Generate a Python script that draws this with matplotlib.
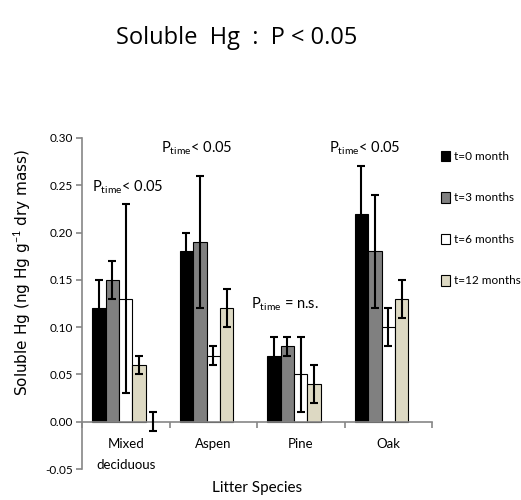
import matplotlib.pyplot as plt
import numpy as np
from matplotlib.patches import Patch

species = ['Mixed\ndeciduous', 'Aspen', 'Pine', 'Oak']
series = ['t=0 month', 't=3 months', 't=6 months', 't=12 months']
colors = ['#000000', '#808080', '#ffffff', '#ddd9c3']

vals = [
    [0.12, 0.18, 0.07, 0.22],   # t=0
    [0.15, 0.19, 0.08, 0.18],   # t=3
    [0.13, 0.07, 0.05, 0.10],   # t=6
    [0.06, 0.12, 0.04, 0.13],   # t=12
]
errs = [
    [0.03, 0.02, 0.02, 0.05],
    [0.02, 0.07, 0.01, 0.06],
    [0.10, 0.01, 0.04, 0.02],
    [0.01, 0.02, 0.02, 0.02],
]
# stray empty fifth slot with an error bar (mixed deciduous only)
blank_vals = [0.0, np.nan, np.nan, np.nan]
blank_errs = [0.01, np.nan, np.nan, np.nan]

p_tail = ['< 0.05', '< 0.05', ' = n.s.', '< 0.05']
p_x = [0.02, 0.81, 1.82, 2.73]
p_y = [0.239, 0.28, 0.115, 0.28]

narrow = ['Lato', 'DejaVu Sans']
plt.rcParams['mathtext.fontset'] = 'custom'
plt.rcParams['mathtext.rm'] = 'Lato'

fig = plt.figure(figsize=(5.21, 5.00), dpi=100)
ax = fig.add_axes([82/521, 1-469/500, 350/521, 331/500])

x = np.arange(len(species))
w = 0.154
for k in range(4):
    ax.bar(x + (k-2)*w, vals[k], w, color=colors[k], edgecolor='black', linewidth=0.8, zorder=2)
    ax.errorbar(x + (k-2)*w, vals[k], yerr=errs[k], fmt='none', ecolor='black',
                elinewidth=1.5, capsize=3, capthick=1.5, zorder=3)
ax.errorbar(x + 2*w, blank_vals, yerr=blank_errs, fmt='none', ecolor='black',
            elinewidth=1.5, capsize=3, capthick=1.5, zorder=3)

for i in range(len(species)):
    ax.text(p_x[i], p_y[i], r'P$_{\mathrm{time}}$' + p_tail[i], ha='center', va='bottom',
            fontsize=10.5, family=narrow)

ax.set_xlim(-0.5, 3.5)
ax.set_ylim(-0.05, 0.30)
ax.set_yticks(np.arange(-0.05, 0.301, 0.05))
ax.set_yticklabels(['%.2f' % v for v in np.arange(-0.05, 0.301, 0.05)], family=narrow, fontsize=8.5)

ax.spines['top'].set_visible(False)
ax.spines['right'].set_visible(False)
ax.spines['bottom'].set_position(('data', 0))
for s in ['left', 'bottom']:
    ax.spines[s].set_color('#868686')
    ax.spines[s].set_linewidth(1.2)
ax.tick_params(axis='y', color='#868686', length=4, width=1.2, pad=2.5)

ax.set_xticks(np.arange(-0.5, 3.6, 1.0))
ax.set_xticklabels([])
ax.tick_params(axis='x', which='major', direction='out', length=4, color='#868686', width=1.2)
ax.set_xticks(x, minor=True)
ax.set_xticklabels(species, minor=True, family=narrow, fontsize=9.5, linespacing=1.9)
ax.tick_params(axis='x', which='minor', length=0, pad=12)

fig.text(257/521, 1-488/500, 'Litter Species', ha='center', va='center', family=narrow, fontsize=11)
fig.text(22/521, 1-272/500, r'Soluble Hg (ng Hg g$^{-1}$ dry mass)', rotation=90,
         ha='center', va='center', fontsize=11, family='DejaVu Sans')
fig.text(237/521, 1-38/500, 'Soluble  Hg  :  P < 0.05', ha='center', va='center',
         fontsize=17, family='Open Sans')

handles = [Patch(facecolor=c, edgecolor='black', linewidth=0.8) for c in colors]
fig.legend(handles, series, loc='upper left', bbox_to_anchor=(436/521, 1-146/500),
           frameon=False, prop={'family': narrow, 'size': 8.5}, handlelength=0.8,
           handleheight=1.0, handletextpad=0.3, labelspacing=2.55, borderaxespad=0)

fig.savefig('out.png', dpi=100)
